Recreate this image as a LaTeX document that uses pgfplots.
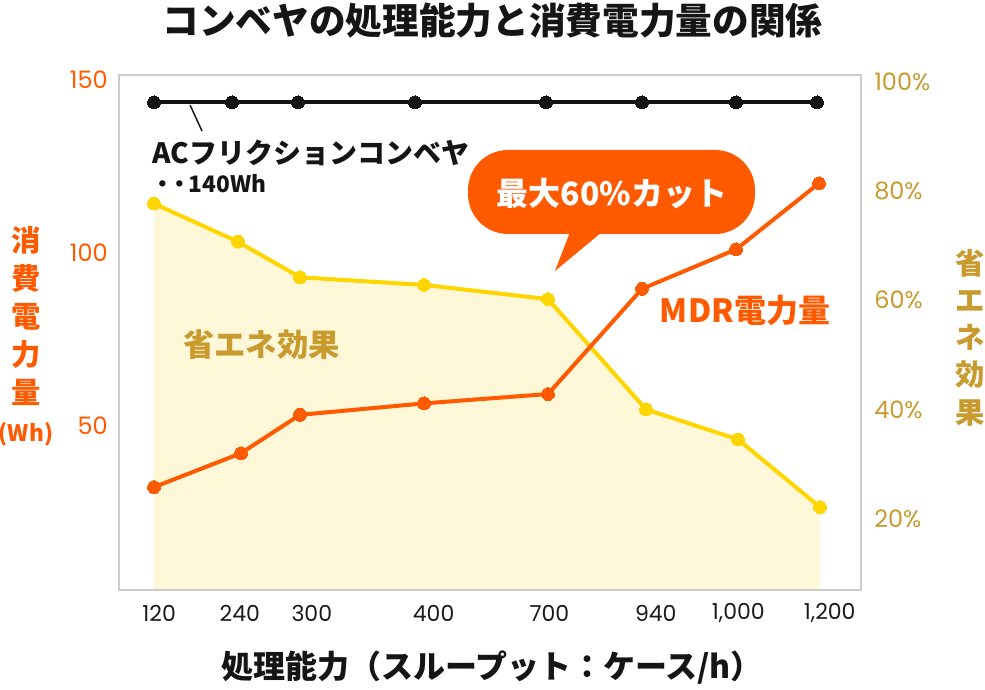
\documentclass[border=0pt]{standalone}
\usepackage{fontspec}
\usepackage{pgfplots}
\pgfplotsset{compat=1.18}
\setmainfont{Noto Sans CJK JP}
\newfontfamily\pop{Poppins}

\definecolor{MdrOrange}{HTML}{FF5A00}
\definecolor{EcoYellow}{HTML}{FFD500}
\definecolor{EcoFill}{HTML}{FEF7D8}
\definecolor{EcoGold}{HTML}{C99A2E}
\definecolor{AcBlack}{HTML}{151515}
\definecolor{FrameGray}{HTML}{CCCCCC}
\definecolor{TickBlack}{HTML}{1A1A1A}

% 1px = 0.75pt ; plot box: x 119..861, y 75..590 (pixels of a 985x689 picture)
\pgfplotsset{
  box/.style={
    at={(89.25pt,74.25pt)}, anchor=south west,
    scale only axis, width=556.5pt, height=386.25pt,
    xmin=119, xmax=861,
    major tick length=0pt,
    /pgf/number format/assume math mode=true,
  },
}

\begin{document}
\begin{tikzpicture}

% energy saving (right axis)
\begin{axis}[box,
  ymin=6.92, ymax=101.25,
  hide x axis,
  axis y line*=right,
  y axis line style={draw=none},
  ytick={20,40,60,80,100},
  yticklabel={\pgfmathprintnumber{\tick}\%},
  yticklabel style={font=\pop\fontsize{18}{21}\selectfont, text=EcoGold,
    anchor=west, inner sep=0pt, xshift=9.75pt},
  ylabel={省\\エ\\ネ\\効\\果},
  ylabel style={at={(axis description cs:1.1469,0.4903)}, anchor=center,
    rotate=-90, align=center, text=EcoGold,
    font=\bfseries\fontsize{22}{27.9}\selectfont},
]
\addplot[draw=none, fill=EcoFill] coordinates {
  (154,77.7) (238,70.7) (300,64.2) (424,62.8) (548,60.2) (646,40.0) (738,34.5) (820,22.1)
} \closedcycle;
\addplot[EcoYellow, line width=3pt, mark=*, mark size=4.8pt,
  mark options={solid, fill=EcoYellow, draw=EcoYellow, line width=0pt}] coordinates {
  (154,77.7) (238,70.7) (300,64.2) (424,62.8) (548,60.2) (646,40.0) (738,34.5) (820,22.1)
};
\end{axis}

% power consumption (left axis)
\begin{axis}[box,
  ymin=2.57, ymax=151.4,
  axis line style={draw=FrameGray, line width=1.5pt},
  xtick={159.2,239.8,311.8,433.6,549.4,655.8,738.3,829.7},
  xticklabels={120,240,300,400,700,940,{1,000},{1,200}},
  ytick={50,100,150},
  xticklabel style={font=\pop\fontsize{16.5}{19}\selectfont, text=TickBlack,
    anchor=center, inner sep=0pt, yshift=-17.25pt},
  yticklabel style={font=\pop\fontsize{18}{21}\selectfont, text=MdrOrange,
    anchor=east, inner sep=0pt, xshift=-8.25pt},
  title={コンベヤの処理能力と消費電力量の関係},
  title style={at={(axis description cs:0.5034,1.0893)}, anchor=center,
    font=\bfseries\fontsize{27.5}{33}\selectfont, text=AcBlack},
  xlabel={処理能力（スループット：ケース/h）},
  xlabel style={at={(axis description cs:0.5027,-0.1515)}, anchor=center,
    font=\bfseries\fontsize{24}{28}\selectfont, text=AcBlack},
  ylabel={消\\費\\電\\力\\量\\{\fontsize{17}{28.5}\selectfont(Wh)}},
  ylabel style={at={(axis description cs:-0.1253,0.4932)}, anchor=center,
    rotate=-90, align=center, text=MdrOrange,
    font=\bfseries\fontsize{22}{28.5}\selectfont},
]
% AC friction conveyor
\addplot[AcBlack, line width=3pt, mark=*, mark size=4.8pt,
  mark options={solid, fill=AcBlack, line width=0pt}] coordinates {
  (154,143.5) (232,143.5) (298,143.5) (415,143.5) (546,143.5) (642,143.5) (736,143.5) (817,143.5)
};
% MDR
\addplot[MdrOrange, line width=3pt, mark=*, mark size=4.8pt,
  mark options={solid, fill=MdrOrange, line width=0pt}] coordinates {
  (154,32.3) (241,42.1) (300,53.2) (424,56.5) (548,59.2) (642,89.6) (736,101.0) (819,120.1)
};
\end{axis}

% annotations, in pixel units of the picture
\begin{scope}[x=0.75pt, y=-0.75pt, yshift=516.75pt]
  \draw[AcBlack, line width=1.1pt] (190,105) -- (202,131);
  \node[anchor=west, inner sep=0pt, text=AcBlack, font=\bfseries\fontsize{21}{25}\selectfont]
    at (152,153) {ACフリクションコンベヤ};
  \node[anchor=west, inner sep=0pt, text=AcBlack, font=\bfseries\fontsize{17}{21}\selectfont]
    at (154.5,184) {\makebox[12.75pt]{・}\makebox[12.75pt]{・}140Wh};
  \fill[MdrOrange, rounded corners=30pt] (468,150) rectangle (755,234);
  \fill[MdrOrange] (570,232) -- (555,271) -- (602,232) -- cycle;
  \node[text=white, font=\bfseries\fontsize{24}{29}\selectfont] at (612,193) {最大60\%カット};
  \node[text=MdrOrange, font=\bfseries\fontsize{24}{29}\selectfont] at (745,310) {MDR電力量};
  \node[text=EcoGold, font=\bfseries\fontsize{23.5}{28}\selectfont] at (261.5,345) {省エネ効果};
\end{scope}

\pgfresetboundingbox
\path[use as bounding box] (0,0) rectangle (738.75pt,516.75pt);
\end{tikzpicture}
\end{document}
